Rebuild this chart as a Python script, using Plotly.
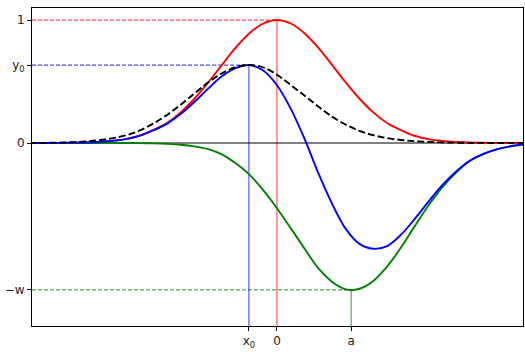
import plotly.graph_objects as go

# x positions (data units) and curve values
X = [-4.5, -4.25, -4.0, -3.75, -3.5, -3.25, -3.0, -2.75, -2.5, -2.25, -2.0, -1.75, -1.5, -1.25,
     -1.0, -0.75, -0.5, -0.25, 0.0, 0.25, 0.5, 0.75, 1.0, 1.25, 1.5, 1.75, 2.0, 2.25, 2.5,
     2.75, 3.0, 3.25, 3.5, 3.75, 4.0, 4.25, 4.5]
RED = [0, 0, 0.001, 0.002, 0.004, 0.008, 0.017, 0.032, 0.059, 0.105, 0.163, 0.249, 0.36, 0.492,
       0.635, 0.775, 0.893, 0.972, 1.0, 0.972, 0.893, 0.775, 0.635, 0.492, 0.36, 0.249, 0.163, 0.105, 0.059,
       0.032, 0.017, 0.008, 0.004, 0.002, 0.001, 0, 0]
GREEN = [0, 0, 0, 0, 0, 0, 0, 0, -0.001, -0.003, -0.007, -0.014, -0.027, -0.05,
         -0.092, -0.165, -0.257, -0.383, -0.53, -0.692, -0.858, -1.018, -1.128, -1.19, -1.185, -1.122, -1.005,
         -0.852, -0.678, -0.51, -0.362, -0.242, -0.148, -0.09, -0.051, -0.026, -0.011]
BLUE = [0, 0, 0.001, 0.002, 0.004, 0.008, 0.017, 0.032, 0.058, 0.102, 0.156, 0.235, 0.333, 0.442,
        0.543, 0.61, 0.634, 0.589, 0.47, 0.28, 0.035, -0.243, -0.493, -0.698, -0.82, -0.86, -0.838, -0.747,
        -0.619, -0.478, -0.345, -0.234, -0.144, -0.088, -0.05, -0.026, -0.011]
BLACK = [0, 0.001, 0.003, 0.006, 0.012, 0.022, 0.038, 0.062, 0.1, 0.158, 0.227, 0.311, 0.403, 0.492,
         0.567, 0.617, 0.634, 0.615, 0.555, 0.472, 0.386, 0.297, 0.215, 0.15, 0.098, 0.064, 0.04, 0.025, 0.015,
         0.009, 0.005, 0.003, 0.001, 0.001, 0, 0, 0]

X0 = -0.51
A = 1.35
Y0 = 0.634
W = 1.195
X_RANGE = [-4.45, 4.47]
Y_RANGE = [-1.488, 1.098]
XTICK_VALS = [X0, 0, A]
XTICK_TEXT = ["x<sub>0</sub>", "0", "a"]
YTICK_VALS = [-W, 0, Y0, 1]
YTICK_TEXT = ["\u2212w", "0", "y<sub>0</sub>", "1"]

RED_C = "#ff0000"
BLUE_C = "#0000ff"
GREEN_C = "#008000"

fig = go.Figure()

# horizontal dashed guides
for yv, xe, col in [(1, 0, RED_C), (Y0, X0, BLUE_C), (-W, A, GREEN_C)]:
    fig.add_trace(go.Scatter(x=[X_RANGE[0], xe], y=[yv, yv], mode="lines",
                             line=dict(color=col, width=1.2, dash="4px,2px"), opacity=0.7,
                             showlegend=False, hoverinfo="skip"))
# vertical guides
for xv, ye, col in [(0, 1, RED_C), (X0, Y0, BLUE_C), (A, -W, GREEN_C)]:
    fig.add_trace(go.Scatter(x=[xv, xv], y=[Y_RANGE[0], ye], mode="lines",
                             line=dict(color=col, width=1.3), opacity=0.6,
                             showlegend=False, hoverinfo="skip"))
# zero line
fig.add_trace(go.Scatter(x=X_RANGE, y=[0, 0], mode="lines",
                         line=dict(color="black", width=1.1), showlegend=False, hoverinfo="skip"))

# curves
fig.add_trace(go.Scatter(x=X, y=RED, mode="lines", line=dict(color=RED_C, width=1.9, shape="spline"),
                         showlegend=False))
fig.add_trace(go.Scatter(x=X, y=GREEN, mode="lines", line=dict(color=GREEN_C, width=1.9, shape="spline"),
                         showlegend=False))
fig.add_trace(go.Scatter(x=X, y=BLUE, mode="lines", line=dict(color=BLUE_C, width=1.9, shape="spline"),
                         showlegend=False))
fig.add_trace(go.Scatter(x=X, y=BLACK, mode="lines",
                         line=dict(color="black", width=1.9, dash="7px,3px", shape="spline"),
                         showlegend=False))

axis_common = dict(showgrid=False, zeroline=False, showline=True, linecolor="black", linewidth=1,
                   mirror=True, ticks="outside", ticklen=4, tickwidth=1, tickcolor="black",
                   tickfont=dict(family="DejaVu Sans", size=12, color="#222"))

fig.update_layout(
    width=525, height=357,
    margin=dict(l=32, r=2, t=8, b=31),
    paper_bgcolor="white", plot_bgcolor="white",
    xaxis=dict(range=X_RANGE, tickmode="array", tickvals=XTICK_VALS, ticktext=XTICK_TEXT, **axis_common),
    yaxis=dict(range=Y_RANGE, tickmode="array", tickvals=YTICK_VALS, ticktext=YTICK_TEXT, **axis_common),
)

fig.write_html("out.html")
